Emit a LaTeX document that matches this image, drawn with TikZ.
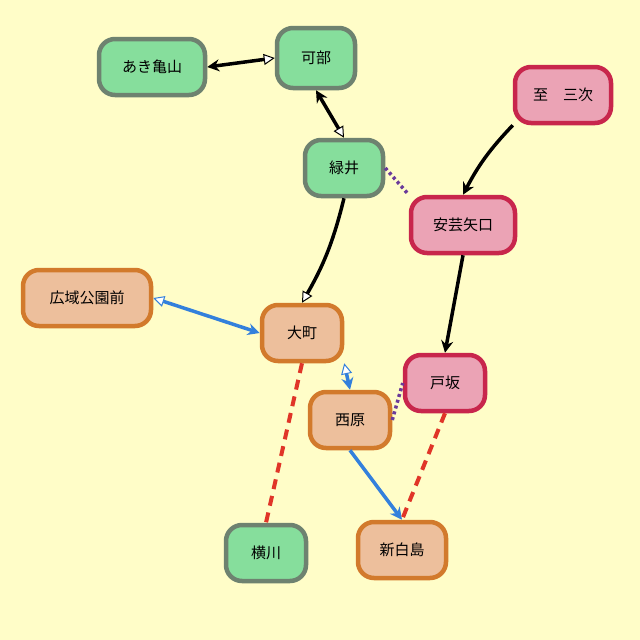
\documentclass[tikz,border=0pt]{standalone}
\usepackage{fontspec}
\setmainfont{Noto Sans CJK JP}
\usetikzlibrary{arrows.meta}
\definecolor{bg}{HTML}{FFFDC8}
\definecolor{gf}{HTML}{86DE9C}\definecolor{gd}{HTML}{6E8270}
\definecolor{pf}{HTML}{EBA3B5}\definecolor{pd}{HTML}{C8264C}
\definecolor{of}{HTML}{EDBF9C}\definecolor{od}{HTML}{D27A2C}
\definecolor{bl}{HTML}{3380DC}\definecolor{rd}{HTML}{E03528}\definecolor{pu}{HTML}{6A3A9A}
\begin{document}
\begin{tikzpicture}[x=1pt,y=-1pt,
 st/.style={rounded corners=16pt,line width=4.5pt,minimum height=56pt,font=\fontsize{15}{15}\selectfont,inner sep=0pt},
 gn/.style={st,fill=gf,draw=gd},pn/.style={st,fill=pf,draw=pd},on/.style={st,fill=of,draw=od},
 blk/.style={line width=3.5pt},
 ft/.tip={Stealth[length=12pt,width=12pt]},ot/.tip={Triangle[open,fill=white,length=11pt,width=11pt,line width=1pt]},
 rdash/.style={rd,line width=4pt,dash pattern=on 10pt off 7pt},
 pdot/.style={pu,line width=3.5pt,dash pattern=on 3pt off 3pt}]
\fill[bg] (0,0) rectangle (640,640);
\node[gn,minimum width=106pt] (aki) at (152,67) {あき亀山};
\node[gn,minimum width=78pt,minimum height=60pt] (kabe) at (316,58) {可部};
\node[gn,minimum width=78pt] (mid) at (344,168) {緑井};
\node[pn,minimum width=96pt] (miyo) at (563,95) {至　三次};
\node[pn,minimum width=104pt] (yag) at (463,225) {安芸矢口};
\node[on,minimum width=128pt] (koi) at (87,298) {広域公園前};
\node[on,minimum width=80pt] (oma) at (302,333) {大町};
\node[pn,minimum width=80pt] (hes) at (445,383) {戸坂};
\node[on,minimum width=80pt] (nis) at (350,420) {西原};
\node[gn,minimum width=80pt] (yok) at (266,553) {横川};
\node[on,minimum width=88pt] (shi) at (402,550) {新白島};
\draw[blk,{ft}-{ot}] (aki.east) -- (kabe.west);
\draw[blk,{ft}-{ot}] (kabe.south) -- (mid.north);
\draw[blk,-{ot}] (mid.south) to[bend left=8] (oma.north);
\draw[blk,-{ft}] (miyo.south west) to[bend right=8] (yag.north);
\draw[blk,-{ft}] (yag.south) -- (hes.north);
\draw[pdot] (mid.east) -- (yag.north west);
\draw[pdot] (nis.east) -- (hes.west);
\draw[bl,line width=3.5pt,{ot}-{ft}] (koi.east) -- (oma.west);
\draw[bl,line width=3.5pt,{ot}-{ft}] (oma.south east) -- (nis.north);
\draw[bl,line width=3.5pt,-{ft}] (nis.south) -- (shi.north);
\draw[rdash] (oma.south) -- (yok.north);
\draw[rdash] (hes.south) -- (shi.north);
\end{tikzpicture}
\end{document}
